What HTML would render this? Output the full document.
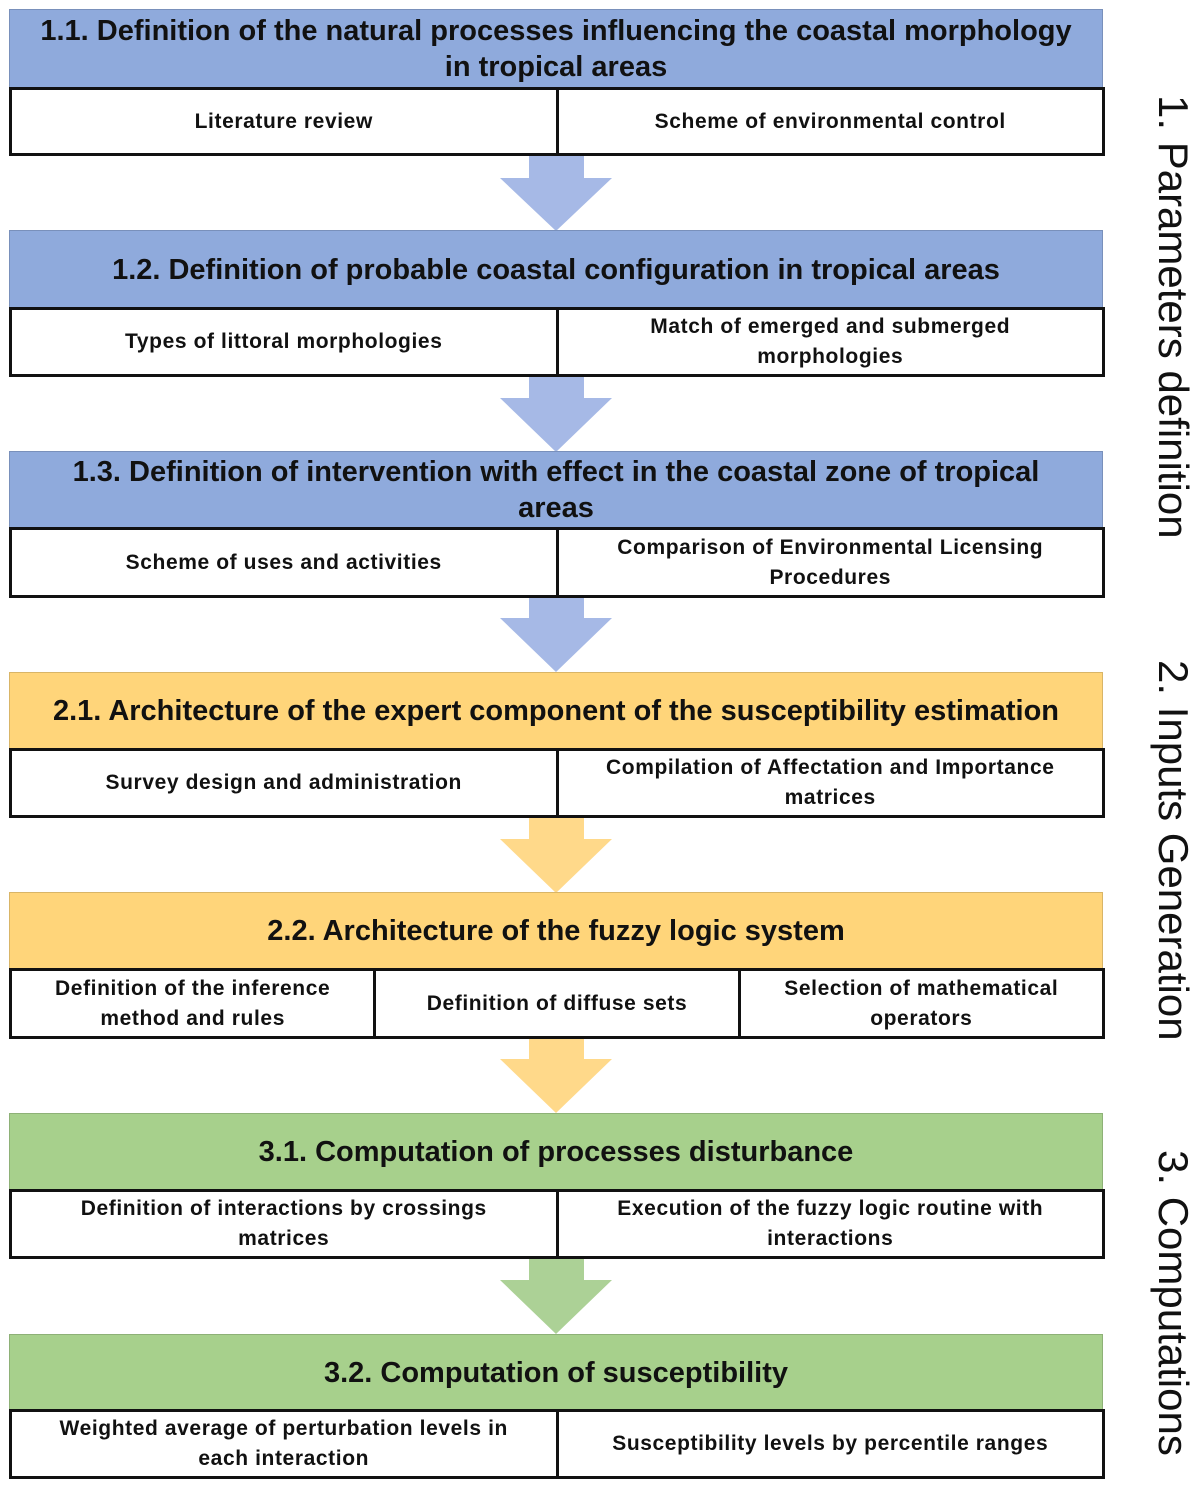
<!DOCTYPE html>
<html><head><style>
body{margin:0;width:1200px;height:1487px;background:#fff;position:relative;font-family:"Liberation Sans",sans-serif;overflow:hidden}
.h{position:absolute;left:9px;width:1094px;display:flex;align-items:center;justify-content:center;text-align:center;font-weight:bold;font-size:29px;line-height:36px;color:#111;box-sizing:border-box;border:1px solid rgba(0,0,0,0.15)}
.b{background:#8faadc}.y{background:#ffd57a}.g{background:#a7d08c}
.r{position:absolute;left:9px;width:1096px;display:flex;border:3px solid #111;box-sizing:border-box;background:#fff}
.r div{flex:1;display:flex;align-items:center;justify-content:center;text-align:center;font-weight:bold;font-size:21px;letter-spacing:0.6px;line-height:30px;color:#111;padding:0 12px}
.r div+div{border-left:3px solid #111}
.s{position:absolute;font-size:42px;color:#111;white-space:nowrap;transform-origin:0 0;transform:rotate(90deg)}
svg{position:absolute;left:0;top:0}
</style></head><body>
<svg width="1200" height="1487">
<polygon points="529,155 584,155 584,178 612,178 556,231 500,178 529,178" fill="#a6b9e6"/>
<polygon points="529,376 584,376 584,398 612,398 556,452 500,398 529,398" fill="#a6b9e6"/>
<polygon points="529,596 584,596 584,618 612,618 556,672 500,618 529,618" fill="#a6b9e6"/>
<polygon points="529,817 584,817 584,839 612,839 556,893 500,839 529,839" fill="#ffd98a"/>
<polygon points="529,1037 584,1037 584,1059 612,1059 556,1113 500,1059 529,1059" fill="#ffd98a"/>
<polygon points="529,1257 584,1257 584,1280 612,1280 556,1334 500,1280 529,1280" fill="#acd196"/>
</svg>
<div class="h b" style="top:9px;height:80px">1.1. Definition of the natural processes influencing the coastal morphology<br>in tropical areas</div>
<div class="r" style="top:87px;height:69px"><div>Literature review</div><div>Scheme of environmental control</div></div>
<div class="h b" style="top:230px;height:79px">1.2. Definition of probable coastal configuration in tropical areas</div>
<div class="r" style="top:307px;height:70px"><div>Types of littoral morphologies</div><div>Match of emerged and submerged<br>morphologies</div></div>
<div class="h b" style="top:451px;height:78px">1.3. Definition of intervention with effect in the coastal zone of tropical<br>areas</div>
<div class="r" style="top:527px;height:71px"><div>Scheme of uses and activities</div><div>Comparison of Environmental Licensing<br>Procedures</div></div>
<div class="h y" style="top:672px;height:78px">2.1. Architecture of the expert component of the susceptibility estimation</div>
<div class="r" style="top:748px;height:70px"><div>Survey design and administration</div><div>Compilation of Affectation and Importance<br>matrices</div></div>
<div class="h y" style="top:892px;height:78px">2.2. Architecture of the fuzzy logic system</div>
<div class="r" style="top:968px;height:71px"><div>Definition of the inference<br>method and rules</div><div>Definition of diffuse sets</div><div>Selection of mathematical<br>operators</div></div>
<div class="h g" style="top:1113px;height:78px">3.1. Computation of processes disturbance</div>
<div class="r" style="top:1189px;height:70px"><div>Definition of interactions by crossings<br>matrices</div><div>Execution of the fuzzy logic routine with<br>interactions</div></div>
<div class="h g" style="top:1334px;height:77px">3.2. Computation of susceptibility</div>
<div class="r" style="top:1409px;height:70px"><div>Weighted average of perturbation levels in<br>each interaction</div><div>Susceptibility levels by percentile ranges</div></div>
<div class="s" style="left:1197px;top:95px">1. Parameters definition</div>
<div class="s" style="left:1197px;top:660px">2. Inputs Generation</div>
<div class="s" style="left:1197px;top:1150px">3. Computations</div>
</body></html>
